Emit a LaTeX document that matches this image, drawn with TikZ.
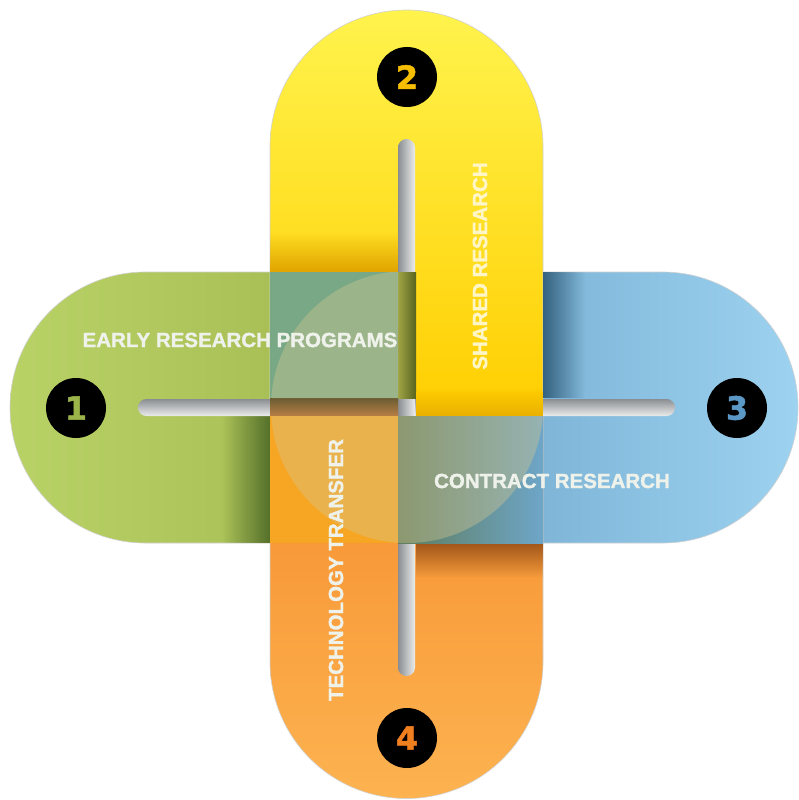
\documentclass[tikz,border=0pt]{standalone}
\usepackage{fontspec}
\setmainfont{Liberation Sans}[BoldFeatures={FakeBold=1.6}]
\newfontfamily\numfont{DejaVu Sans}[BoldFeatures={FakeBold=1.5}]
\usetikzlibrary{fadings}
\tikzfading[name=fadeR, left color=transparent!100, right color=transparent!0]
\tikzfading[name=fadeL, left color=transparent!0, right color=transparent!100]
\tikzfading[name=fadeD, top color=transparent!100, bottom color=transparent!0]
\tikzfading[name=fadeU, top color=transparent!0, bottom color=transparent!100]
\definecolor{grnL}{HTML}{B9D266}
\definecolor{grnR}{HTML}{A0B64D}
\definecolor{grnDark}{HTML}{55702A}
\definecolor{yelT}{HTML}{FFF34D}
\definecolor{yelB}{HTML}{FFCE00}
\definecolor{yelDark}{HTML}{E0A400}
\definecolor{bluL}{HTML}{6EA6CA}
\definecolor{bluR}{HTML}{9DD2F0}
\definecolor{bluDark}{HTML}{35627F}
\definecolor{orgT}{HTML}{F58B2C}
\definecolor{orgB}{HTML}{FDB350}
\definecolor{orgDark}{HTML}{A0561A}
\definecolor{tealTL}{HTML}{78A886}
\definecolor{orgBL}{HTML}{F6A623}
\definecolor{brL}{HTML}{5E7C5C}
\definecolor{brR}{HTML}{6EA6C8}
\definecolor{ovl}{HTML}{D8C890}
\definecolor{txt}{HTML}{EEF2EA}
\definecolor{txtY}{HTML}{FFF6C8}
\definecolor{num1}{HTML}{9CB54A}
\definecolor{num2}{HTML}{F6BE00}
\definecolor{num3}{HTML}{5C98C6}
\definecolor{num4}{HTML}{F07F1F}
\definecolor{slotD}{HTML}{8A8E92}
\definecolor{slotL}{HTML}{ECECEC}
\begin{document}
\begin{tikzpicture}[x=1pt,y=-1pt,
  pilledge/.style={draw=black!18, line width=0.6pt},
  numdisc/.style={circle, fill=black, minimum size=60pt, inner sep=0pt,
    font=\numfont\bfseries\fontsize{32}{32}\selectfont},
  label/.style={text=txt, inner sep=0pt, font=\bfseries\fontsize{20.5}{24}\selectfont}]
\useasboundingbox (0,0) rectangle (798,800);
% pills
\shade[left color=bluL, right color=bluR, pilledge]
  (398,272) -- (662.5,272) arc[start angle=270, end angle=450, radius=135.5] -- (398,543) -- cycle;
\shade[left color=grnL, right color=grnR, pilledge]
  (416,272) -- (145.5,272) arc[start angle=270, end angle=90, radius=135.5] -- (416,543) -- cycle;
\shade[top color=orgT, bottom color=orgB, pilledge]
  (270,398) -- (543,398) -- (543,662) arc[start angle=0, end angle=180, radius=136.5] -- cycle;
\shade[top color=yelT, bottom color=yelB, pilledge]
  (543,416) -- (543,146.5) arc[start angle=0, end angle=-180, radius=136.5] -- (270,416) -- cycle;
% shadows on pills
\fill[yelDark, path fading=fadeD] (270,232) rectangle (398,272);
\fill[bluDark, path fading=fadeL] (543,272) rectangle (585,398);
\fill[orgDark, path fading=fadeU] (416,543) rectangle (543,578);
\fill[grnDark, path fading=fadeR] (222,416) rectangle (270,543);
% slots
\shade[top color=slotD, bottom color=slotL, rounded corners=8.4pt] (138,399) rectangle (675,416);
\shade[left color=slotD, right color=slotL, rounded corners=8.4pt] (398,139) rectangle (415,676);
% centre pieces
\fill[tealTL] (270,272) rectangle (398,398);
\shade[left color={rgb,255:red,160;green,164;blue,68}, right color={rgb,255:red,88;green,100;blue,31}] (398,272) rectangle (416,398);
\shade[top color={rgb,255:red,107;green,92;blue,50}, bottom color={rgb,255:red,183;green,127;blue,69}] (270,398) rectangle (398,416);
\fill[orgBL] (270,416) rectangle (398,543);
\shade[left color=brL, right color=brR] (398,416) rectangle (543,543);
\fill[yelB] (416,392) rectangle (543,416);
\fill[yelDark, path fading=fadeD, fill opacity=0.7] (416,388) rectangle (543,416);
% translucent disc
\begin{scope}
  \clip (270,272) rectangle (398,398) (270,416) rectangle (543,543);
  \fill[ovl, fill opacity=0.38] (407,407) circle[radius=136];
\end{scope}
% number discs
\node[numdisc, text=num1] (n1) at (76,408) {1};
\node[numdisc, text=num2] (n2) at (407,77) {2};
\node[numdisc, text=num3] (n3) at (737,408) {3};
\node[numdisc, text=num4] (n4) at (407,738) {4};
% labels
\node[label] (t1) at (240,340) {EARLY RESEARCH PROGRAMS};
\node[label, rotate=90, text=txtY] (t2) at (480,266) {SHARED RESEARCH};
\node[label] (t3) at (552,481) {CONTRACT RESEARCH};
\node[label, rotate=90] (t4) at (336,570) {TECHNOLOGY TRANSFER};
\end{tikzpicture}
\end{document}
